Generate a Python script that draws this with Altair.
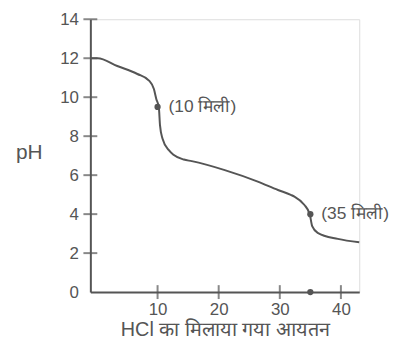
import altair as alt
import pandas as pd

# titration curve
vol = [-1.0, 0.2, 3.4, 6.7, 8.6, 9.4, 9.8, 10.2, 10.4, 10.8, 11.85, 12.6, 14.3, 15.6, 21.0, 26.4, 29.7, 31.8, 32.4, 34.0, 34.9, 35.3, 36.2, 39.5, 43.0]
ph = [12.0, 12.0, 11.6, 11.19, 10.85, 10.42, 9.9, 9.5, 8.55, 7.88, 7.28, 7.05, 6.8, 6.72, 6.26, 5.67, 5.24, 4.99, 4.9, 4.48, 4.0, 3.38, 3.04, 2.73, 2.56]

pt_x = [10, 35, 35]
pt_y = [9.5, 4.0, 0.0]

ann_x = [10, 35]
ann_y = [9.5, 4.0]
ann_text = ["(10 मिली)", "(35 मिली)"]

y_ticks = [2, 4, 6, 8, 10, 12, 14]
y_labels = [0, 2, 4, 6, 8, 10, 12, 14]
x_ticks = [10, 20, 30, 40]

x_title = "HCl का मिलाया गया आयतन"
y_title = "pH"

GRAY = "#555555"
FONT = "Liberation Sans"

curve = pd.DataFrame({"v": vol, "ph": ph})
pts = pd.DataFrame({"v": pt_x, "ph": pt_y})
ann = pd.DataFrame({"v": ann_x, "ph": ann_y, "t": ann_text})
yt = pd.DataFrame({"ph": y_ticks})
xt = pd.DataFrame({"v": x_ticks})

xs = alt.Scale(domain=[-1, 43], nice=False, zero=False)
ys = alt.Scale(domain=[0, 14], nice=False)

xaxis = alt.Axis(values=x_ticks, tickCount=20, format="d", tickSize=0, ticks=False,
                 labelPadding=10, grid=False, labelOverlap=False,
                 domainColor=GRAY, domainWidth=2, labelColor=GRAY, labelFontSize=17,
                 labelFont=FONT, title=x_title, titleFont=FONT, titleFontSize=20,
                 titleFontWeight="normal", titleColor=GRAY, titlePadding=2)
yaxis = alt.Axis(values=y_labels, tickCount=20, format="d", tickSize=0, ticks=False,
                 labelPadding=12, grid=False, labelOverlap=False, labelBound=False,
                 domainColor=GRAY, domainWidth=2, labelColor=GRAY, labelFontSize=17,
                 labelFont=FONT, title=y_title, titleFont=FONT, titleFontSize=21,
                 titleFontWeight="normal", titleColor=GRAY, titleAngle=0,
                 titleAlign="center", titleBaseline="middle", titleX=-62, titleY=134)


def X(field):
    return alt.X(field, scale=xs, axis=xaxis)


def Y(field):
    return alt.Y(field, scale=ys, axis=yaxis)


line = alt.Chart(curve).mark_line(color=GRAY, strokeWidth=2, interpolate="monotone").encode(
    x=X("v:Q"), y=Y("ph:Q"))

dots = alt.Chart(pts).mark_circle(color=GRAY, size=40, opacity=1).encode(
    x=X("v:Q"), y=Y("ph:Q"))

labels = alt.Chart(ann).mark_text(align="left", baseline="middle", dx=11, fontSize=17.5,
                                  font=FONT, color=GRAY).encode(
    x=X("v:Q"), y=Y("ph:Q"), text="t:N")

ytick = alt.Chart(yt).mark_tick(orient="horizontal", size=14, thickness=2, color=GRAY).encode(
    x=alt.datum(-1, scale=xs), y=Y("ph:Q"))

xtick = alt.Chart(xt).mark_tick(orient="vertical", size=14, thickness=2, color=GRAY).encode(
    x=X("v:Q"), y=alt.datum(0, scale=ys))

chart = alt.layer(line, ytick, xtick, dots, labels).properties(
    width=271, height=275,
    autosize=alt.AutoSizeParams(type="none"),
    padding={"left": 83, "top": 10, "right": 30, "bottom": 53},
).configure_view(stroke=None).configure(background="white")

chart.save("out.html", embed_options={"renderer": "svg", "actions": False})
